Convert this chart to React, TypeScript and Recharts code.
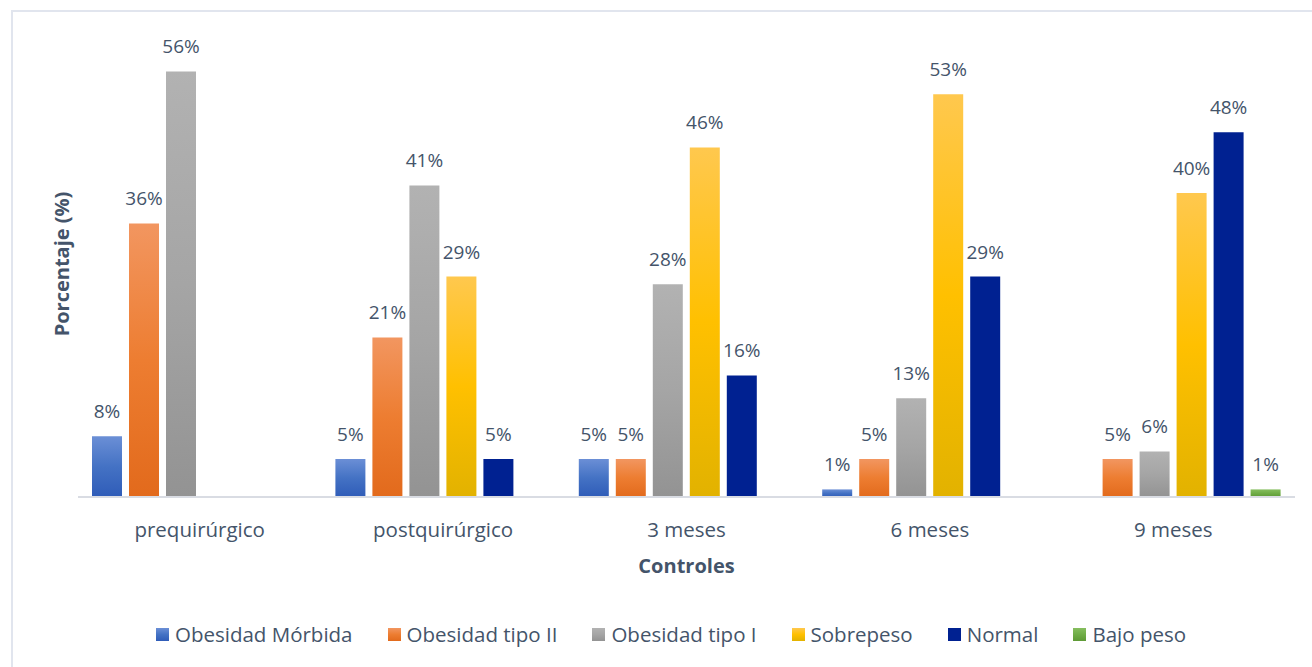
import React from "react";
import { BarChart, Bar, XAxis, YAxis, LabelList, Legend } from "recharts";

// Control points along the follow-up
const categories = ["prequirúrgico", "postquirúrgico", "3 meses", "6 meses", "9 meses"];

// Percentage of patients in each weight class per control (null = no patients)
const obesidadMorbida = [8, 5, 5, 1, null];
const obesidadTipoII = [36, 21, 5, 5, 5];
const obesidadTipoI = [56, 41, 28, 13, 6];
const sobrepeso = [null, 29, 46, 53, 40];
const normal = [null, 5, 16, 29, 48];
const bajoPeso = [null, null, null, null, 1];

const yDomain = [0, 60];

const seriesDefs = [
  { key: "om", name: "Obesidad Mórbida", values: obesidadMorbida, grad: "gOM", stops: ["#6B8FD6", "#4472C4", "#2F5CB8"] },
  { key: "o2", name: "Obesidad tipo II", values: obesidadTipoII, grad: "gO2", stops: ["#F29660", "#ED7D31", "#E26A1C"] },
  { key: "o1", name: "Obesidad tipo I", values: obesidadTipoI, grad: "gO1", stops: ["#B2B2B2", "#A5A5A5", "#939393"] },
  { key: "sp", name: "Sobrepeso", values: sobrepeso, grad: "gSP", stops: ["#FFC84E", "#FFC000", "#E2B200"] },
  { key: "nm", name: "Normal", values: normal, grad: "gNM", stops: ["#002191", "#002191", "#002191"] },
  { key: "bp", name: "Bajo peso", values: bajoPeso, grad: "gBP", stops: ["#86BE5F", "#70AD47", "#5E9A36"] },
];

const data = categories.map((c, i) => {
  const row: Record<string, any> = { name: c };
  seriesDefs.forEach((s) => {
    row[s.key] = s.values[i];
  });
  return row;
});

const TEXT = "#44546A";
const FONT = "'Open Sans', sans-serif";

const ValueLabel = (props: any) => {
  const { x, y, width, value } = props;
  if (value === null || value === undefined) return null;
  return (
    <text
      x={x + width / 2}
      y={y - 18}
      textAnchor="middle"
      fill={TEXT}
      fontSize={19}
      fontFamily={FONT}
    >
      {`${value}%`}
    </text>
  );
};

const CategoryTick = (props: any) => {
  const { x, y, payload } = props;
  return (
    <text x={x} y={y + 40} textAnchor="middle" fill={TEXT} fontSize={20.5} fontFamily={FONT}>
      {payload.value}
    </text>
  );
};

const LegendContent = () => (
  <div
    style={{
      display: "flex",
      justifyContent: "center",
      alignItems: "center",
      gap: 35,
      paddingLeft: 30,
      fontFamily: FONT,
      fontSize: 20.5,
      color: TEXT,
    }}
  >
    {seriesDefs.map((s) => (
      <div key={s.key} style={{ display: "flex", alignItems: "center" }}>
        <svg width={13} height={13} style={{ marginRight: 6 }}>
          <rect width={13} height={13} fill={`url(#${s.grad})`} />
        </svg>
        <span>{s.name}</span>
      </div>
    ))}
  </div>
);

export default function App() {
  return (
    <div
      style={{
        position: "absolute",
        left: 0,
        top: 0,
        width: 1312,
        height: 667,
        background: "#ffffff",
        overflow: "hidden",
      }}
    >
      <div
        style={{
          position: "absolute",
          left: 11,
          top: 10,
          width: 1330,
          height: 700,
          border: "2px solid #E1E5EE",
          boxSizing: "border-box",
        }}
      />
      <div style={{ position: "absolute", left: 0, top: 0 }}>
        <BarChart
          width={1312}
          height={667}
          data={data}
          margin={{ top: 41, right: 17, bottom: 0, left: 40 }}
          barSize={30}
          barGap={7}
        >
          <defs>
            {seriesDefs.map((s) => (
              <linearGradient key={s.grad} id={s.grad} x1="0" y1="0" x2="0" y2="1">
                <stop offset="0%" stopColor={s.stops[0]} />
                <stop offset="50%" stopColor={s.stops[1]} />
                <stop offset="100%" stopColor={s.stops[2]} />
              </linearGradient>
            ))}
          </defs>
          <XAxis
            dataKey="name"
            height={170}
            tickLine={false}
            tickSize={0}
            tickMargin={0}
            axisLine={{ stroke: "#D9DCE3", strokeWidth: 2 }}
            tick={<CategoryTick />}
            interval={0}
            label={{
              content: (p: any) => {
                const vb = p.viewBox;
                return (
                  <text
                    x={vb.x + vb.width / 2}
                    y={vb.y + 76}
                    textAnchor="middle"
                    fill={TEXT}
                    fontSize={20}
                    fontWeight="bold"
                    fontFamily={FONT}
                  >
                    Controles
                  </text>
                );
              },
            }}
          />
          <YAxis
            width={38}
            domain={yDomain}
            tick={false}
            tickLine={false}
            axisLine={false}
            label={{
              content: (p: any) => {
                const vb = p.viewBox;
                const cx = vb.x + 21;
                const cy = vb.y + vb.height / 2 - 5;
                return (
                  <text
                    x={cx}
                    y={cy}
                    transform={`rotate(-90, ${cx}, ${cy})`}
                    textAnchor="middle"
                    dominantBaseline="central"
                    fill={TEXT}
                    fontSize={20}
                    fontWeight="bold"
                    fontFamily={FONT}
                  >
                    Porcentaje (%)
                  </text>
                );
              },
            }}
          />
          <Legend
            layout="horizontal"
            verticalAlign="middle"
            align="center"
            wrapperStyle={{ top: 620, left: 0, width: 1312 }}
            content={<LegendContent />}
          />
          {seriesDefs.map((s) => (
            <Bar
              key={s.key}
              dataKey={s.key}
              name={s.name}
              fill={`url(#${s.grad})`}
              isAnimationActive={false}
            >
              <LabelList dataKey={s.key} content={<ValueLabel />} />
            </Bar>
          ))}
        </BarChart>
      </div>
    </div>
  );
}
